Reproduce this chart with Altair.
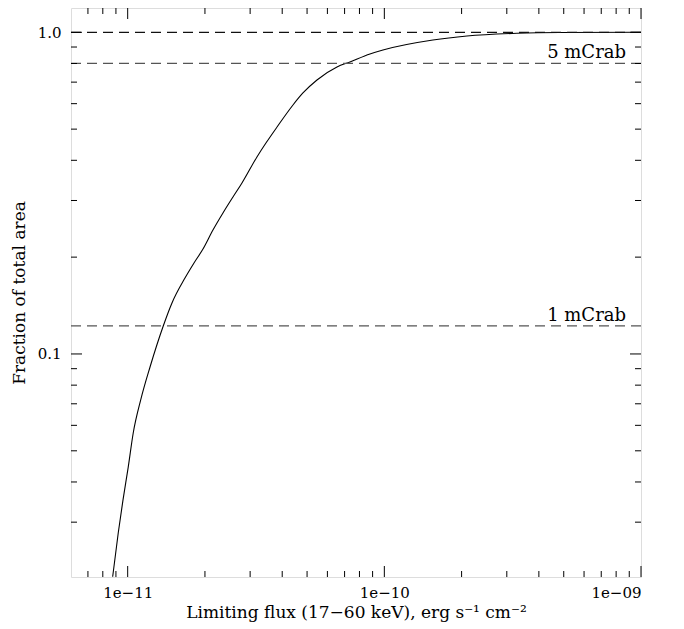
import altair as alt
import pandas as pd

# Curve: limiting flux (erg s^-1 cm^-2) vs fraction of total area
flux = [8.74e-12, 9.19e-12, 9.59e-12, 1.005e-11, 1.051e-11, 1.124e-11, 1.222e-11,
        1.376e-11, 1.488e-11, 1.672e-11, 1.813e-11, 1.965e-11, 2.149e-11, 2.351e-11, 2.572e-11,
        2.788e-11, 3.189e-11, 3.457e-11, 3.819e-11, 4.406e-11, 4.818e-11, 5.464e-11,
        6.539e-11, 7.345e-11, 8.789e-11, 9.876e-11, 1.546e-10, 2.098e-10, 3.285e-10,
        4.832e-10, 1.0e-9]
frac = [0.0203, 0.0278, 0.0352, 0.0445, 0.0568, 0.0720, 0.0911,
        0.1222, 0.1441, 0.1722, 0.1918, 0.2120, 0.2429, 0.2744, 0.3077,
        0.3401, 0.4098, 0.4527, 0.5077, 0.5943, 0.6476, 0.7107,
        0.7800, 0.8087, 0.8561, 0.8810, 0.9464, 0.9739, 0.9929,
        0.9986, 1.0]

# Reference levels
level_values = [1.0, 0.8, 0.1222]
level_labels = ["", "5 mCrab", "1 mCrab"]
level_colors = ["#111111", "#555555", "#555555"]

# Tick values
x_major = [1e-11, 1e-10, 1e-9]
x_minor = [7e-12, 8e-12, 9e-12,
           2e-11, 3e-11, 4e-11, 5e-11, 6e-11, 7e-11, 8e-11, 9e-11,
           2e-10, 3e-10, 4e-10, 5e-10, 6e-10, 7e-10, 8e-10, 9e-10]
y_major = [0.1, 1.0]
y_minor = [0.03, 0.04, 0.05, 0.06, 0.07, 0.08, 0.09,
           0.2, 0.3, 0.4, 0.5, 0.6, 0.7, 0.8, 0.9]

W, H = 570, 569
FONT = "DejaVu Serif"

xscale = alt.Scale(type="log", domain=[6.014e-12, 1e-9], nice=False)
yscale = alt.Scale(type="log", domain=[0.02026, 1.19], nice=False)

curve_df = pd.DataFrame({"flux": flux, "frac": frac})
levels_df = pd.DataFrame({"frac": level_values, "label": level_labels, "color": level_colors})

xaxis = alt.Axis(values=x_major, ticks=False, tickSize=0, domain=False, grid=False,
                 labelExpr="datum.value < 3e-11 ? '1e\u221211' : datum.value < 3e-10 ? '1e\u221210' : '1e\u221209'",
                 labelPadding=8, labelFont=FONT, labelFontSize=15, labelColor="black",
                 title="Limiting flux (17\u221260 keV), erg s\u207b\u00b9 cm\u207b\u00b2",
                 titleFont=FONT, titleFontSize=17, titleFontWeight="normal", titleColor="black",
                 titleBaseline="alphabetic", titleY=40)
yaxis = alt.Axis(values=y_major, ticks=False, tickSize=0, domain=False, grid=False,
                 format=".1f", labelPadding=10, labelFont=FONT, labelFontSize=15, labelColor="black",
                 title="Fraction of total area", titleFont=FONT, titleFontSize=17,
                 titleFontWeight="normal", titleColor="black", titleX=-43)

curve = alt.Chart(curve_df).mark_line(color="black", strokeWidth=1.1, clip=True,
                                      interpolate="monotone").encode(
    x=alt.X("flux:Q", scale=xscale, axis=xaxis),
    y=alt.Y("frac:Q", scale=yscale, axis=yaxis),
)

lines = alt.Chart(levels_df).mark_rule(strokeDash=[10, 6], strokeWidth=1.2).encode(
    y=alt.Y("frac:Q", scale=yscale),
    color=alt.Color("color:N", scale=None),
)

texts = alt.Chart(levels_df).mark_text(align="right", baseline="alphabetic", dy=-5,
                                       font=FONT, fontSize=18, color="black").encode(
    y=alt.Y("frac:Q", scale=yscale),
    x=alt.value(555),
    text="label:N",
)

xmaj_df = pd.DataFrame({"flux": x_major})
xmin_df = pd.DataFrame({"flux": x_minor})
ymaj_df = pd.DataFrame({"frac": y_major})
ymin_df = pd.DataFrame({"frac": y_minor})

def xticks(df, length):
    bottom = alt.Chart(df).mark_rule(color="black", strokeWidth=1).encode(
        x=alt.X("flux:Q", scale=xscale), y=alt.value(H), y2=alt.value(H - length))
    top = alt.Chart(df).mark_rule(color="black", strokeWidth=1).encode(
        x=alt.X("flux:Q", scale=xscale), y=alt.value(0), y2=alt.value(length))
    return [bottom, top]

def yticks(df, length):
    left = alt.Chart(df).mark_rule(color="black", strokeWidth=1).encode(
        y=alt.Y("frac:Q", scale=yscale), x=alt.value(0), x2=alt.value(length))
    right = alt.Chart(df).mark_rule(color="black", strokeWidth=1).encode(
        y=alt.Y("frac:Q", scale=yscale), x=alt.value(W), x2=alt.value(W - length))
    return [left, right]

tick_layers = xticks(xmaj_df, 11) + xticks(xmin_df, 6) + yticks(ymaj_df, 11) + yticks(ymin_df, 6)

chart = alt.layer(curve, lines, texts, *tick_layers).properties(
    width=W, height=H,
    autosize=alt.AutoSizeParams(type="none"),
    padding={"left": 63, "top": 0, "right": 20, "bottom": 50},
).configure_view(stroke="black", strokeWidth=1.2).configure(background="white")

chart.save("out.html", embed_options={"renderer": "svg", "actions": False})
